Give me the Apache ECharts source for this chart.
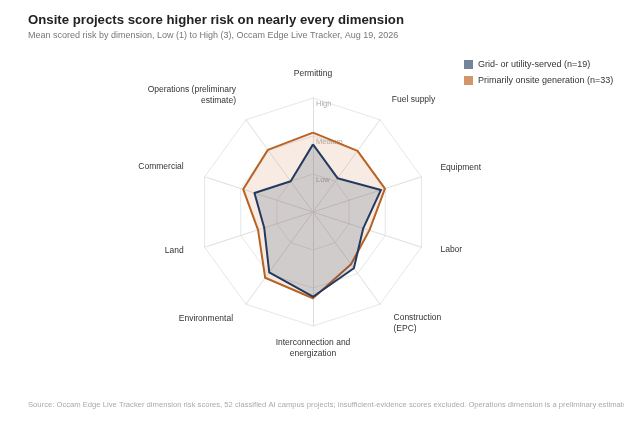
<!DOCTYPE html>
<html>
<head>
<meta charset="utf-8">
<script src="https://cdn.jsdelivr.net/npm/echarts@6/dist/echarts.min.js"></script>
<style>
  html, body { margin: 0; padding: 0; background: #fff; }
  #chart { width: 624px; height: 423px; }
</style>
</head>
<body>
<div id="chart"></div>
<script>
// dimensions, listed counterclockwise from the top (radar draws counterclockwise)
var dimensions = ['Permitting', 'Operations (preliminary\nestimate)', 'Commercial', 'Land', 'Environmental',
    'Interconnection and\nenergization', 'Construction\n(EPC)', 'Labor', 'Equipment', 'Fuel supply'];
var gridServed = [1.78, 1.0, 1.62, 1.35, 1.96, 2.23, 1.83, 1.39, 1.88, 1.10];
var onsiteGen = [2.09, 2.02, 1.93, 1.52, 2.14, 2.27, 1.70, 1.56, 1.99, 1.99];
var riskLevels = ['', 'Low', 'Medium', 'High'];
var seriesNames = ['Grid- or utility-served (n=19)', 'Primarily onsite generation (n=33)'];

// how each axis name sits (gap from the outer ring, vertical anchor)
var nameLayout = [
    { gap: 19 },
    { gap: 17, va: 'bottom' },
    { gap: 22, va: 'bottom', lh: 6 },
    { gap: 22, va: 'bottom', lh: 7 },
    { gap: 22, va: 'bottom', lh: 7 },
    { gap: 22.5, va: 'middle' },
    { gap: 23, va: 'middle' },
    { gap: 20, va: 'bottom', lh: 7 },
    { gap: 20, va: 'bottom', lh: 6 },
    { gap: 20, va: 'bottom', lh: 7 }
];

var chart = echarts.init(document.getElementById('chart'));

var indicators = dimensions.map(function (name, i) {
    var lay = nameLayout[i];
    var ind = { name: name, min: 0, max: 3, nameGap: lay.gap, nameTextStyle: {} };
    if (lay.va) ind.nameTextStyle.verticalAlign = lay.va;
    if (lay.lh) ind.nameTextStyle.lineHeight = lay.lh;
    if (i === 0) {
        ind.axisLabel = {
            show: true,
            color: '#aaa',
            fontSize: 7.5,
            margin: -3,
            align: 'left',
            verticalAlign: 'top',
            padding: [2, 0, 0, 0],
            formatter: function (v) { return riskLevels[v] || ''; }
        };
    }
    return ind;
});

var option = {
    animation: false,
    textStyle: { fontFamily: 'Liberation Sans' },
    title: [{
        text: 'Onsite projects score higher risk on nearly every dimension',
        subtext: 'Mean scored risk by dimension, Low (1) to High (3), Occam Edge Live Tracker, Aug 19, 2026',
        left: 28,
        top: 14,
        padding: 0,
        itemGap: 4,
        textStyle: { fontSize: 13.2, fontWeight: 'bold', color: '#222', fontFamily: 'Liberation Sans' },
        subtextStyle: { fontSize: 9, color: '#777', fontFamily: 'Liberation Sans' }
    }, {
        text: 'Source: Occam Edge Live Tracker dimension risk scores, 52 classified AI campus projects; insufficient-evidence scores excluded. Operations dimension is a preliminary estimate.',
        left: 28,
        top: 401,
        padding: 0,
        textStyle: { fontSize: 7.65, fontWeight: 'normal', color: '#aaa', fontFamily: 'Liberation Sans' }
    }],
    legend: {
        orient: 'vertical',
        left: 464,
        top: 60,
        padding: 0,
        icon: 'rect',
        itemWidth: 9,
        itemHeight: 9,
        itemGap: 7,
        textStyle: { fontSize: 9, color: '#333', fontFamily: 'Liberation Sans' },
        data: [
            { name: seriesNames[0], itemStyle: { color: '#74849a' } },
            { name: seriesNames[1], itemStyle: { color: '#d4956a' } }
        ]
    },
    radar: {
        center: [313, 212],
        radius: 114,
        startAngle: 90,
        splitNumber: 3,
        shape: 'polygon',
        nameGap: 20,
        axisName: { color: '#333', fontSize: 8.5, lineHeight: 11, fontFamily: 'Liberation Sans' },
        axisLine: { lineStyle: { color: '#ddd', width: 1 } },
        splitLine: { lineStyle: { color: '#e6e6e6', width: 1 } },
        splitArea: { show: false },
        axisLabel: { show: false },
        indicator: indicators
    },
    series: [{
        type: 'radar',
        symbol: 'none',
        data: [{
            name: seriesNames[1],
            value: onsiteGen,
            lineStyle: { color: '#b65e1c', width: 2 },
            areaStyle: { color: 'rgba(212,149,106,0.27)' }
        }, {
            name: seriesNames[0],
            value: gridServed,
            lineStyle: { color: '#243b5e', width: 2 },
            areaStyle: { color: 'rgba(36,59,94,0.25)' }
        }]
    }]
};

chart.setOption(option);
</script>
</body>
</html>
